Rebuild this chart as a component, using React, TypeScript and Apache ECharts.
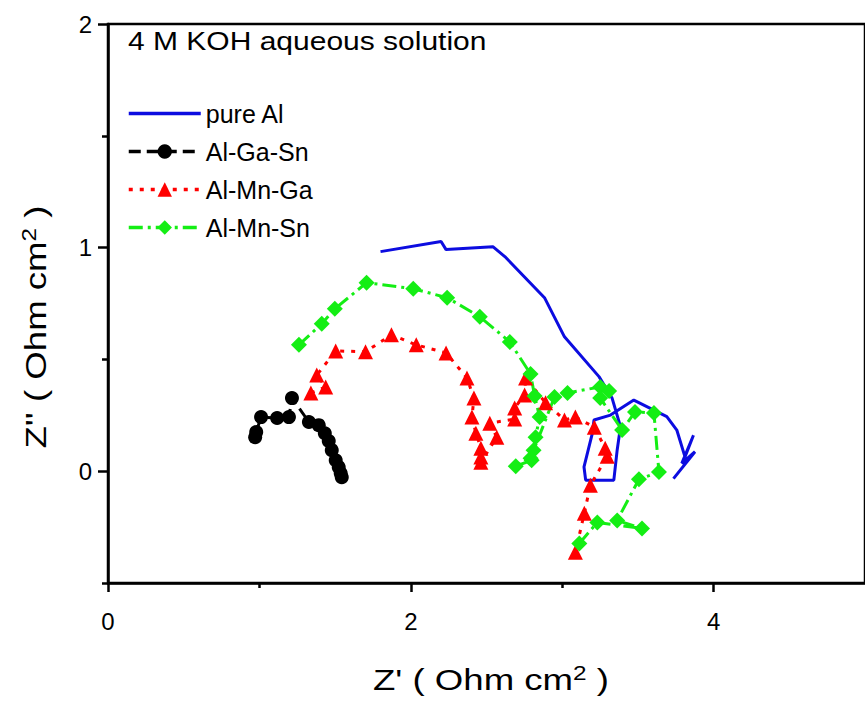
import React, { useEffect, useRef } from "react";
import * as echarts from "echarts";

// ---- data (Z', Z'') ----
const seriesNames = ["pure Al", "Al-Ga-Sn", "Al-Mn-Ga", "Al-Mn-Sn"];

const pureAl: number[][] = [
  [1.8, 0.982], [2.2, 1.027], [2.233, 0.991], [2.542, 1.004], [2.621, 0.96],
  [2.883, 0.776], [3.015, 0.601], [3.243, 0.423], [3.33, 0.326], [3.385, 0.199],
  [3.363, 0.094], [3.341, -0.04], [3.155, -0.04], [3.144, 0.019], [3.199, 0.169],
  [3.21, 0.229], [3.319, 0.251], [3.473, 0.318], [3.691, 0.244], [3.757, 0.184],
  [3.811, 0.064], [3.867, 0.161], [3.79, 0.035], [3.877, 0.087], [3.735, -0.033],
];

const alGaSn: number[][] = [
  [1.544, -0.027], [1.537, -0.009], [1.524, 0.018], [1.504, 0.049], [1.478, 0.094],
  [1.458, 0.135], [1.432, 0.17], [1.392, 0.206], [1.327, 0.22], [1.215, 0.327],
  [1.195, 0.242], [1.117, 0.238], [1.011, 0.242], [0.979, 0.175], [0.972, 0.152],
];

const alMnGa: number[][] = [
  [1.34, 0.35], [1.438, 0.377], [1.379, 0.43], [1.504, 0.538], [1.701, 0.534],
  [1.872, 0.61], [2.036, 0.565], [2.233, 0.529], [2.371, 0.417], [2.417, 0.327],
  [2.404, 0.242], [2.43, 0.17], [2.463, 0.103], [2.463, 0.063], [2.463, 0.04],
  [2.568, 0.152], [2.522, 0.215], [2.686, 0.233], [2.686, 0.283], [2.752, 0.341],
  [2.758, 0.417], [2.89, 0.306], [3.015, 0.229], [3.087, 0.242], [3.212, 0.197],
  [3.284, 0.103], [3.297, 0.067], [3.186, -0.063], [3.146, -0.188], [3.087, -0.363],
];

const alMnSn: number[][] = [
  [1.261, 0.565], [1.412, 0.659], [1.498, 0.726], [1.708, 0.843], [2.016, 0.816],
  [2.24, 0.776], [2.456, 0.691], [2.654, 0.578], [2.791, 0.435], [2.818, 0.336],
  [2.851, 0.242], [2.824, 0.152], [2.811, 0.094], [2.798, 0.049], [2.693, 0.022],
  [2.791, 0.058], [2.949, 0.332], [3.035, 0.35], [3.251, 0.377], [3.31, 0.359],
  [3.251, 0.327], [3.396, 0.184], [3.481, 0.265], [3.606, 0.26], [3.639, -0.004],
  [3.507, -0.036], [3.363, -0.22], [3.527, -0.256], [3.232, -0.229], [3.113, -0.323],
];

const xMajorTicks = [0, 2, 4];
const xMinorTicks = [1, 3];
const yMajorTicks = [0, 1, 2];
const yMinorTicks = [-0.5, 0.5, 1.5];

const noteText = "4 M KOH aqueous solution";
const xTitleRich = "{a|Z' ( Ohm cm}{s|2}{a| )}";
const yTitleRich = "{a|Z'' ( Ohm cm}{s|2}{a| )}";

const FONT = "'Liberation Sans', Arial, sans-serif";
const BLUE = "#0c0ce0";
const RED = "#ff0000";
const GREEN = "#14ee14";
const BLACK = "#000000";

export default function App() {
  const ref = useRef<HTMLDivElement>(null);

  useEffect(() => {
    if (!ref.current) return;
    const chart = echarts.init(ref.current, null, { renderer: "svg" });
    const axisLineStyle = { color: "#000", width: 2.5 };
    const labelStyle = { fontSize: 24, color: "#000", fontFamily: FONT };
    const titleRich = {
      a: { fontSize: 30, fontFamily: FONT, fill: "#000", color: "#000", lineHeight: 34 },
      s: { fontSize: 20, fontFamily: FONT, fill: "#000", color: "#000", verticalAlign: "top", lineHeight: 22 },
    };

    chart.setOption({
      animation: false,
      backgroundColor: "#ffffff",
      grid: {
        left: 108,
        top: 24,
        width: 761,
        height: 559,
        show: true,
        borderColor: "#000",
        borderWidth: 2.5,
        backgroundColor: "transparent",
      },
      xAxis: [
        {
          type: "value",
          min: 0,
          max: 5,
          position: "bottom",
          axisLine: { show: true, onZero: false, lineStyle: axisLineStyle },
          axisTick: { show: true, customValues: xMajorTicks, length: 9, lineStyle: axisLineStyle },
          axisLabel: { customValues: xMajorTicks, margin: 26, ...labelStyle },
          splitLine: { show: false },
        },
        {
          type: "value",
          min: 0,
          max: 5,
          position: "bottom",
          axisLine: { show: false, onZero: false },
          axisTick: { show: true, customValues: xMinorTicks, length: 5, lineStyle: axisLineStyle },
          axisLabel: { show: false },
          splitLine: { show: false },
        },
      ],
      yAxis: [
        {
          type: "value",
          min: -0.5,
          max: 2,
          position: "left",
          axisLine: { show: true, onZero: false, lineStyle: axisLineStyle },
          axisTick: { show: true, customValues: yMajorTicks, length: 10, lineStyle: axisLineStyle },
          axisLabel: { customValues: yMajorTicks, margin: 16, ...labelStyle },
          splitLine: { show: false },
        },
        {
          type: "value",
          min: -0.5,
          max: 2,
          position: "left",
          axisLine: { show: false, onZero: false },
          axisTick: { show: true, customValues: yMinorTicks, length: 6, lineStyle: axisLineStyle },
          axisLabel: { show: false },
          splitLine: { show: false },
        },
      ],
      legend: {
        data: [
          { name: seriesNames[0], itemStyle: { opacity: 0 } },
          { name: seriesNames[1] },
          { name: seriesNames[2] },
          { name: seriesNames[3] },
        ],
        orient: "vertical",
        left: 127,
        top: 101,
        padding: 0,
        itemWidth: 72,
        itemHeight: 18,
        itemGap: 13,
        lineStyle: { width: 3.5 },
        textStyle: { fontSize: 25, fontFamily: FONT, color: "#000", lineHeight: 24 },
      },
      graphic: [
        {
          type: "text",
          x: 128,
          y: 41,
          scaleX: 1.2,
          style: {
            text: noteText,
            fontSize: 25,
            fontFamily: FONT,
            fill: "#000",
            align: "left",
            verticalAlign: "middle",
            textAlign: "left",
            textVerticalAlign: "middle",
          },
        },
        {
          type: "text",
          x: 491,
          y: 680,
          scaleX: 1.22,
          style: {
            text: xTitleRich,
            rich: titleRich,
            fill: "#000",
            align: "center",
            verticalAlign: "middle",
            textAlign: "center",
            textVerticalAlign: "middle",
          },
        },
        {
          type: "text",
          x: 36,
          y: 327,
          rotation: Math.PI / 2,
          scaleX: 1.22,
          style: {
            text: yTitleRich,
            rich: titleRich,
            fill: "#000",
            align: "center",
            verticalAlign: "middle",
            textAlign: "center",
            textVerticalAlign: "middle",
          },
        },
      ],
      series: [
        {
          name: seriesNames[0],
          type: "line",
          data: pureAl,
          symbol: "none",
          lineStyle: { color: BLUE, width: 3 },
          itemStyle: { color: BLUE },
        },
        {
          name: seriesNames[1],
          type: "line",
          data: alGaSn,
          symbol: "circle",
          symbolSize: 14,
          lineStyle: { color: BLACK, width: 3, type: [12, 6] },
          itemStyle: { color: BLACK },
        },
        {
          name: seriesNames[2],
          type: "line",
          data: alMnGa,
          symbol: "triangle",
          symbolSize: 15,
          lineStyle: { color: RED, width: 3, type: [4, 7] },
          itemStyle: { color: RED },
        },
        {
          name: seriesNames[3],
          type: "line",
          data: alMnSn,
          symbol: "diamond",
          symbolSize: 16,
          lineStyle: { color: GREEN, width: 3, type: [14, 5, 3, 5] },
          itemStyle: { color: GREEN },
        },
      ],
    });

    return () => {
      chart.dispose();
    };
  }, []);

  return (
    <div
      ref={ref}
      style={{ position: "absolute", left: 0, top: 0, width: 865, height: 706, background: "#fff" }}
    />
  );
}
